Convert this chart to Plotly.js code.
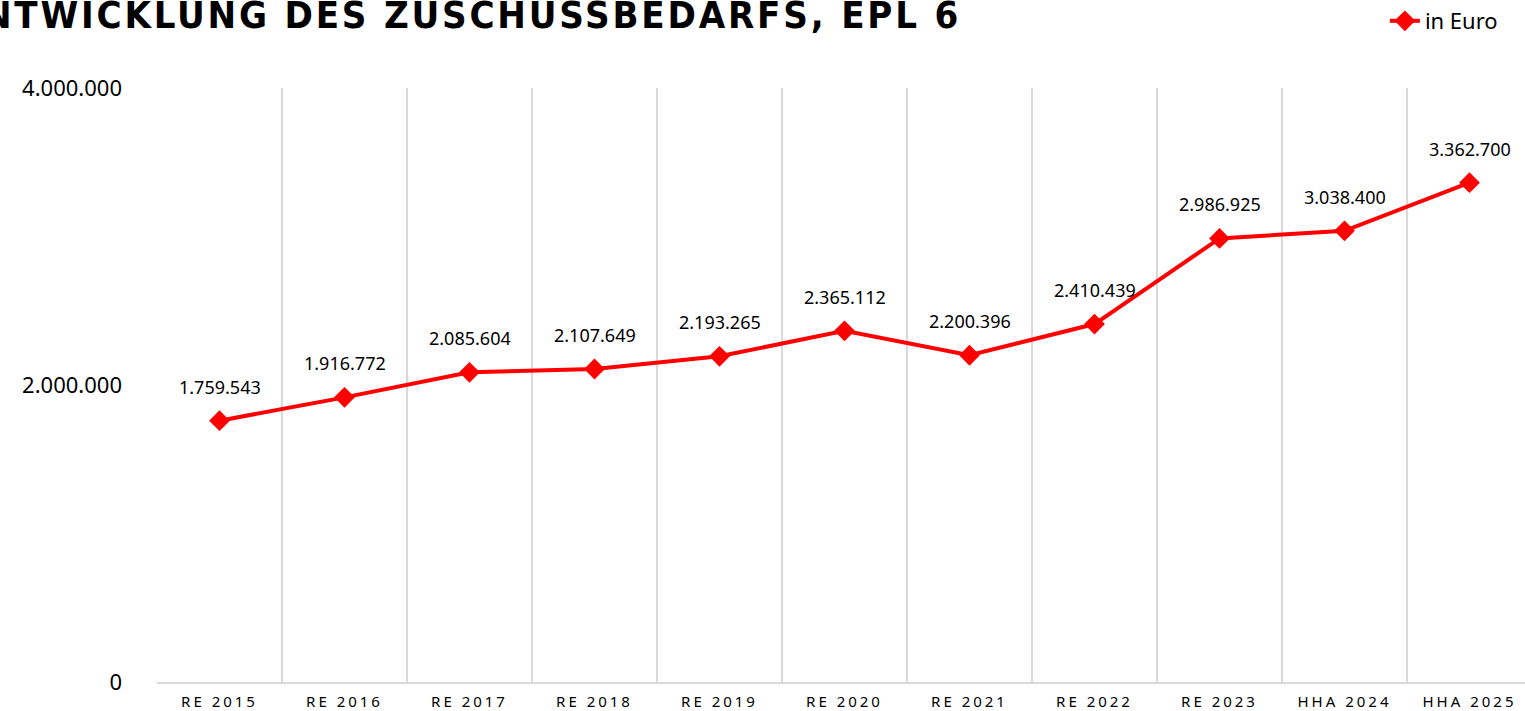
<!DOCTYPE html>
<html><head><meta charset="utf-8">
<script src="https://cdn.plot.ly/plotly-3.0.1.min.js"></script>
<style>
html,body{margin:0;padding:0;overflow:hidden;background:#fff;}
#chart .xtick text{letter-spacing:3px;}
#chart g.annotation[data-index="11"] text{letter-spacing:2.8px;}
</style>
</head><body>
<div id="chart"></div>
<script>
const categories = ["RE 2015","RE 2016","RE 2017","RE 2018","RE 2019","RE 2020","RE 2021","RE 2022","RE 2023","HHA 2024","HHA 2025"];
const values = [1759543,1916772,2085604,2107649,2193265,2365112,2200396,2410439,2986925,3038400,3362700];
const labels = ["1.759.543","1.916.772","2.085.604","2.107.649","2.193.265","2.365.112","2.200.396","2.410.439","2.986.925","3.038.400","3.362.700"];
const yTicks = [0,2000000,4000000];
const yTickText = ["0","2.000.000","4.000.000"];
const seriesName = "in Euro";
const titleText = "ENTWICKLUNG DES ZUSCHUSSBEDARFS, EPL 6";

const font = "Noto Sans, Open Sans, sans-serif";
const trace = {
  x: categories, y: values, type: "scatter", mode: "lines+markers", name: seriesName,
  line: {color: "#ff0000", width: 4},
  marker: {symbol: "diamond", size: 16, color: "#ff0000"},
  cliponaxis: false
};
const annotations = categories.map((c,i)=>({
  x: c, y: values[i], xref: "x", yref: "y", text: labels[i], showarrow: false,
  yshift: 34, font: {family: font, size: 18, color: "#000"}
}));
annotations.push({
  xref: "paper", yref: "paper", x: -0.1086, y: 1.083, xanchor: "left", yanchor: "bottom",
  text: "<b>" + titleText + "</b>", showarrow: false,
  font: {family: "DejaVu Sans Condensed, Liberation Sans Narrow, sans-serif", size: 38, color: "#000"}
});
const layout = {
  width: 1532, height: 711,
  margin: {l: 157, r: 0, t: 87, b: 29},
  paper_bgcolor: "#fff", plot_bgcolor: "#fff",
  showlegend: true,
  legend: {x: 0.893, y: 1.148, xanchor: "left", yanchor: "top", orientation: "h",
    font: {family: font, size: 22, color: "#000"}, bgcolor: "rgba(0,0,0,0)"},
  xaxis: {type: "category", range: [-0.5, 10.5], tickson: "boundaries", showgrid: true,
    gridcolor: "#d9d9d9", gridwidth: 2, showline: true, linecolor: "#d9d9d9", linewidth: 2,
    ticks: "", ticklabelstandoff: 5, tickfont: {family: font, size: 15, color: "#000"}, fixedrange: true},
  yaxis: {range: [0, 4000000], tickvals: yTicks, ticktext: yTickText, showgrid: false,
    zeroline: false, showline: false, ticks: "", ticklabelstandoff: 34,
    tickfont: {family: font, size: 22, color: "#000"}, fixedrange: true},
  annotations: annotations
};
Plotly.newPlot("chart", [trace], layout, {displayModeBar: false, staticPlot: true});
</script>
</body></html>
